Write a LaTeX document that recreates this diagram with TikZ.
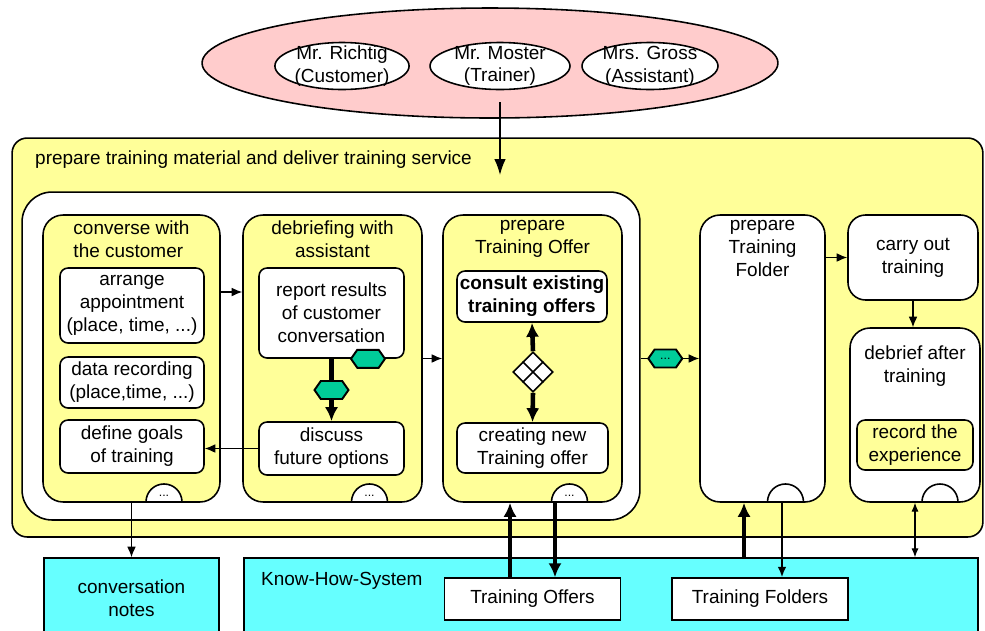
\documentclass[tikz,border=0pt]{standalone}
\usepackage{fontspec}
\setmainfont{Liberation Sans}
\usepackage{tikz}
\usetikzlibrary{positioning, shapes.geometric, shapes.symbols, arrows.meta}

\definecolor{partypink}{HTML}{FFCCCC}
\definecolor{procyellow}{HTML}{FFFF99}
\definecolor{systemcyan}{HTML}{66FFFF}
\definecolor{eventgreen}{HTML}{00CC99}

\begin{document}
\begin{tikzpicture}[x=0.02cm, y=-0.02cm,
    font=\fontsize{10.8}{13}\selectfont,
    container/.style={draw, line width=0.9pt, fill=procyellow, rounded corners=0.4cm, inner sep=0},
    task/.style={draw, line width=0.9pt, fill=white, rounded corners=0.16cm, align=center, inner sep=1pt},
    person/.style={ellipse, draw, line width=0.9pt, fill=white, align=center, inner xsep=0pt, inner ysep=-2.5pt},
    store/.style={draw, line width=0.8pt, fill=white, minimum width=3.52cm, minimum height=0.84cm},
    hexa/.style={signal, signal to=east and west, signal pointer angle=110, draw, line width=1.1pt,
        fill=eventgreen, minimum width=0.68cm, minimum height=0.36cm, inner sep=0, font=\scriptsize},
    bump/.style={semicircle, draw, line width=0.9pt, fill=white, minimum width=0.72cm,
        inner sep=0.5pt, anchor=chord center, font=\scriptsize},
    flow/.style={-{Latex[length=6pt,width=5pt]}, line width=0.7pt},
    bigflow/.style={-{Latex[length=8pt,width=7.5pt]}, line width=2.6pt}
]
    \useasboundingbox (0,0) rectangle (985,630);
    \clip (0,0) rectangle (985,630);

    % persons involved
    \node[ellipse, draw, line width=0.9pt, fill=partypink, minimum width=11.52cm, minimum height=2.2cm] (parties) at (490,63) {};
    \node[person, minimum width=2.64cm, minimum height=0.94cm] (customer) at (342,66) {Mr. Richtig\\(Customer)};
    \node[person, minimum width=2.8cm, minimum height=0.94cm] (trainer) at (500,66) {Mr. Moster\\(Trainer)};
    \node[person, minimum width=2.72cm, minimum height=0.94cm] (assistant) at (650,66) {Mrs. Gross\\(Assistant)};

    % main process
    \node[draw, line width=0.9pt, fill=procyellow, rounded corners=0.3cm, minimum width=19.42cm, minimum height=7.98cm] (main) at (497.5,337.5) {};
    \node[anchor=west] (maintitle) at (29,160) {prepare training material and deliver training service};
    \coordinate (entry) at (500,175);
    \draw[-{Latex[length=9pt,width=6.5pt]}, line width=0.8pt] ([yshift=-0.24cm]trainer.south) -- (entry);

    \node[draw, line width=0.9pt, fill=white, rounded corners=0.6cm, minimum width=12.36cm, minimum height=6.56cm] (inner) at (331,356) {};

    % converse with the customer
    \node[container, minimum width=3.54cm, minimum height=5.74cm] (conv) at (131.5,358.5) {};
    \node[below=0pt of conv.north, align=left] (convtitle) {converse with\\the customer};
    \node[task, minimum width=2.88cm, minimum height=1.5cm] (arrange) at (132,305.5) {arrange\\appointment\\(place, time, ...)};
    \node[task, minimum width=2.88cm, minimum height=1.02cm] (datarec) at (132,382.5) {data recording\\(place,time, ...)};
    \node[task, minimum width=2.88cm, minimum height=1.06cm] (goals) at (132,446.5) {define goals\\of training};
    \node[bump] (convbump) at ([xshift=0.65cm]conv.south) {...};

    % debriefing with assistant
    \node[container, minimum width=3.58cm, minimum height=5.74cm] (debr) at (332.5,358.5) {};
    \node[below=0pt of debr.north, align=center] (debrtitle) {debriefing with\\assistant};
    \node[task, minimum width=2.9cm, minimum height=1.8cm] (report) at (331.5,313) {report results\\of customer\\conversation};
    \node[task, minimum width=2.9cm, minimum height=1.06cm] (discuss) at (331.5,448.5) {discuss\\future options};
    \node[hexa] (reportev) at ([xshift=0.73cm]report.south) {};
    \draw[bigflow] (report.south) -- (discuss.north) node[midway, hexa] (discussev) {};
    \node[bump] (debrbump) at ([xshift=0.74cm]debr.south) {...};

    % prepare training offer
    \node[container, minimum width=3.58cm, minimum height=5.74cm] (offer) at (532.5,358.5) {};
    \node[below=0pt of offer.north, align=center] (offertitle) {prepare\\Training Offer};
    \node[task, minimum width=3.0cm, minimum height=1.02cm, font=\fontsize{10.8}{13}\selectfont\bfseries] (consult) at (532,296.5) {consult existing\\training offers};
    \node[task, minimum width=3.02cm, minimum height=1.0cm] (creating) at (532.5,448) {creating new\\Training offer};
    \node[diamond, draw, line width=0.9pt, fill=white, minimum size=0.8cm, inner sep=0] (xor) at (533,372) {};
    \draw[line width=0.9pt] (xor.north west) -- (xor.south east) (xor.north east) -- (xor.south west);
    \draw[bigflow] (xor.north) -- (consult.south);
    \draw[bigflow] (xor.south) -- (creating.north);
    \node[bump] (offerbump) at ([xshift=0.74cm]offer.south) {...};

    \draw[flow] ([yshift=1.33cm]conv.east) -- ([yshift=1.33cm]debr.west);
    \draw[flow] (debr.east) -- (offer.west);
    \draw[flow] (discuss.west) -- (discuss.west -| goals.east);

    % training folder and training
    \node[draw, line width=0.9pt, fill=white, rounded corners=0.4cm, minimum width=2.5cm, minimum height=5.74cm] (folder) at (762.5,358.5) {};
    \node[below=0pt of folder.north, align=center] (foldertitle) {prepare\\Training\\Folder};
    \node[bump] (folderbump) at ([xshift=0.46cm]folder.south) {};
    \draw[flow] (inner.east |- folder.west) -- (folder.west) node[pos=0.42, hexa] (folderev) {...};

    \node[task, rounded corners=0.35cm, minimum width=2.6cm, minimum height=1.7cm] (carry) at (913,257.5) {carry out\\training};
    \node[draw, line width=0.9pt, fill=white, rounded corners=0.4cm, minimum width=2.6cm, minimum height=3.48cm] (debrief) at (915,415) {};
    \node[below=7pt of debrief.north, align=center] (debrieftitle) {debrief after\\training};
    \node[task, fill=procyellow, minimum width=2.32cm, minimum height=1cm] (record) at (915,445) {record the\\experience};
    \node[bump] (debriefbump) at ([xshift=0.5cm]debrief.south) {};
    \draw[flow] (folder.east |- carry.west) -- (carry.west);
    \draw[flow] (carry.south) -- (carry.south |- debrief.north);

    % know-how system
    \node[draw, line width=0.9pt, fill=systemcyan, minimum width=3.5cm, minimum height=1.6cm, align=center] (notes) at (131.5,598) {conversation\\notes};
    \node[draw, line width=0.9pt, fill=systemcyan, minimum width=14.68cm, minimum height=1.6cm] (khs) at (611,598) {};
    \node[anchor=west] (khstitle) at (255,581) {Know-How-System};
    \node[store] (trainoff) at (532.5,599) {Training Offers};
    \node[store] (trainfold) at (760,599) {Training Folders};

    \draw[flow] (conv.south) -- (conv.south |- notes.north);
    \draw[bigflow] ([xshift=-0.45cm]trainoff.north) -- ([xshift=-0.45cm]offer.south);
    \draw[bigflow] ([xshift=0.45cm]offer.south) -- ([xshift=0.45cm]trainoff.north);
    \draw[bigflow] ([xshift=-0.37cm]folder.south |- khs.north) -- ([xshift=-0.37cm]folder.south);
    \draw[flow, line width=1.1pt] ([xshift=0.39cm]folder.south) -- ([xshift=0.39cm]folder.south |- trainfold.north);
    \draw[{Latex[length=5pt,width=4pt]}-{Latex[length=5pt,width=4pt]}, line width=0.6pt] (debrief.south) -- (debrief.south |- khs.north);
\end{tikzpicture}
\end{document}
